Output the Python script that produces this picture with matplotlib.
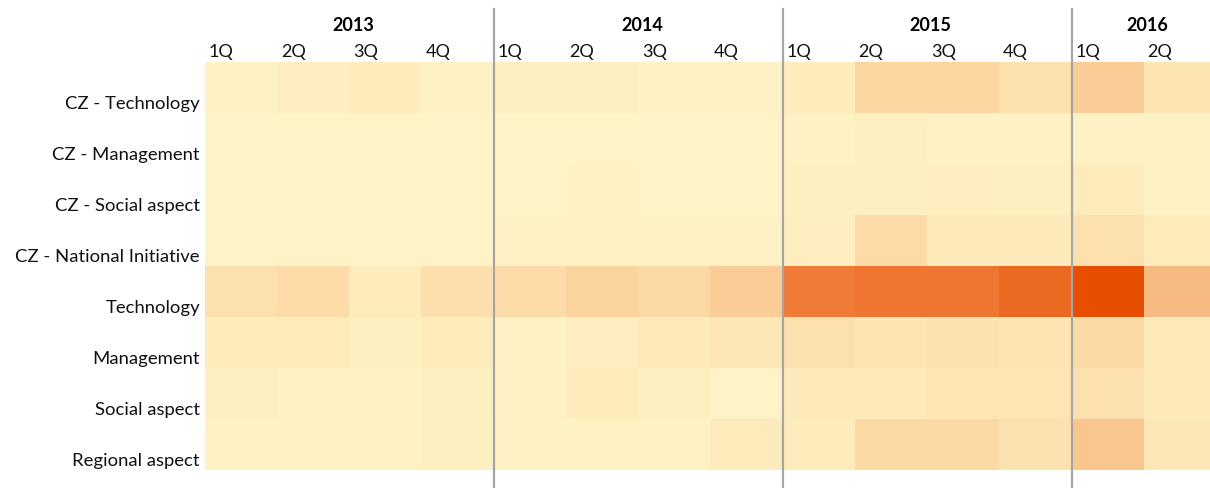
import numpy as np
import matplotlib.pyplot as plt
from matplotlib.colors import LinearSegmentedColormap

# DATA

rows = ['CZ - Technology', 'CZ - Management', 'CZ - Social aspect', 'CZ - National Initiative',
        'Technology', 'Management', 'Social aspect', 'Regional aspect']
years = ['2013', '2014', '2015', '2016']
quarters_per_year = [4, 4, 4, 2]
quarter_labels = ['1Q', '2Q', '3Q', '4Q', '1Q', '2Q', '3Q', '4Q', '1Q', '2Q', '3Q', '4Q', '1Q', '2Q']

cz_technology = [0.02, 0.05, 0.06, 0.03, 0.04, 0.04, 0.02, 0.02, 0.06, 0.22, 0.22, 0.15, 0.28, 0.12]
cz_management = [0.01, 0.01, 0.01, 0.01, 0.01, 0.01, 0.01, 0.01, 0.03, 0.04, 0.03, 0.03, 0.02, 0.02]
cz_social = [0.01, 0.01, 0.01, 0.01, 0.01, 0.02, 0.01, 0.01, 0.04, 0.04, 0.05, 0.04, 0.07, 0.03]
cz_national = [0.01, 0.01, 0.01, 0.01, 0.02, 0.02, 0.02, 0.02, 0.05, 0.18, 0.08, 0.08, 0.14, 0.07]
technology = [0.15, 0.18, 0.07, 0.16, 0.18, 0.24, 0.20, 0.28, 0.75, 0.78, 0.78, 0.85, 1.00, 0.38]
management = [0.06, 0.06, 0.04, 0.06, 0.02, 0.05, 0.08, 0.10, 0.14, 0.12, 0.13, 0.12, 0.20, 0.08]
social = [0.04, 0.02, 0.02, 0.04, 0.02, 0.06, 0.04, 0.01, 0.08, 0.08, 0.11, 0.11, 0.14, 0.08]
regional = [0.02, 0.02, 0.02, 0.04, 0.03, 0.03, 0.03, 0.07, 0.07, 0.20, 0.20, 0.13, 0.32, 0.10]

values = np.array([cz_technology, cz_management, cz_social, cz_national,
                   technology, management, social, regional])

cmap = LinearSegmentedColormap.from_list('heat', [
    (0.0, '#FFF5C8'), (0.25, '#FBD29C'), (0.5, '#F5A76A'), (0.75, '#F07C38'), (1.0, '#E84E00')])

plt.rcParams['font.family'] = ['Lato', 'DejaVu Sans']

fig = plt.figure(figsize=(12.1, 4.89), dpi=100)
# the last column runs a little past the right edge, as in the original
ax = fig.add_axes([205/1210, 18/489, 1011/1210, 408/489])

n_rows, n_cols = values.shape
ax.imshow(values, cmap=cmap, vmin=0, vmax=1, aspect='auto',
          extent=(0, n_cols, n_rows, 0), interpolation='nearest')
ax.set_xlim(0, n_cols)
ax.set_ylim(n_rows, 0)
ax.set_xticks([])
ax.set_yticks([])
for s in ax.spines.values():
    s.set_visible(False)

# row labels (sit low in each row, like the original)
for i, r in enumerate(rows):
    ax.text(-0.07, i + 0.9, r, ha='right', va='baseline', fontsize=13.3, color='#111111', clip_on=False)

# quarter labels
for i, q in enumerate(quarter_labels):
    ax.text(i + 0.05, -0.12, q, ha='left', va='baseline', fontsize=13, color='#111111', clip_on=False)

# year labels and separators
start = 0
for y, n in zip(years, quarters_per_year):
    ax.text(start + n / 2 + 0.05, -0.63, y, ha='center', va='baseline', fontsize=13,
            fontweight='bold', clip_on=False)
    if start > 0:
        ax.plot([start, start], [-1.04, 8.36], color='#A6A6A6', linewidth=1.6, clip_on=False)
    start += n

fig.savefig('out.png', dpi=100)
